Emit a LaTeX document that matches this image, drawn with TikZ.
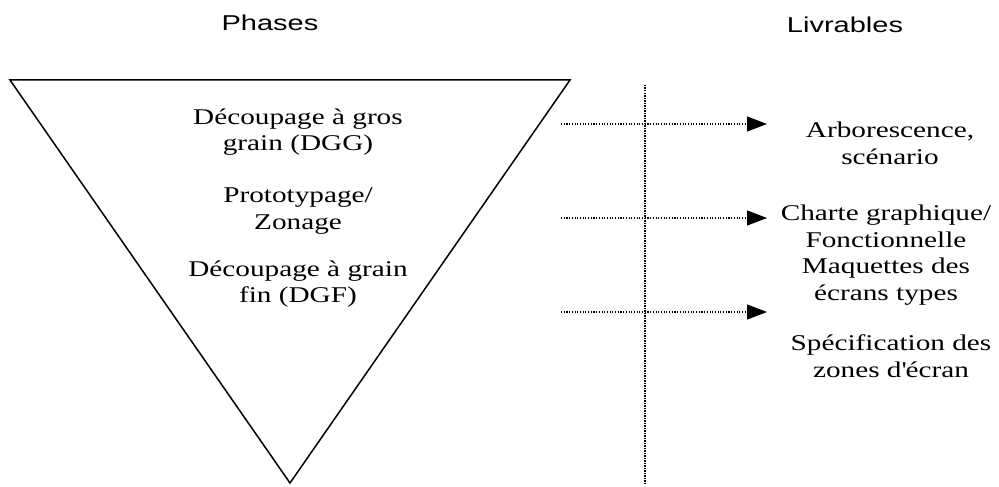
\documentclass[tikz,border=0pt]{standalone}
\usepackage{fontspec}
\setmainfont{Liberation Serif}[FakeStretch=1.3]
\newfontfamily\headfont{Liberation Sans}[FakeStretch=1.35]
\usetikzlibrary{arrows.meta}
\tikzset{
  head/.style={font=\headfont\fontsize{21.5}{24}\selectfont, inner sep=0pt},
  body/.style={font=\fontsize{22.5}{26.7}\selectfont, align=center, inner sep=0pt},
  feed/.style={line width=1.1pt, dash pattern=on 1.1pt off 1.6pt, -{Triangle[length=20pt,width=15pt]}},
  divider/.style={line width=2.4pt, dash pattern=on 1.5pt off 1pt},
  funnel/.style={line width=1.5pt, line join=miter}
}
\begin{document}
\begin{tikzpicture}[x=1pt,y=-1pt]
\useasboundingbox (0,0) rectangle (999,487);
\fill[white] (0,0) rectangle (999,487);
% headings
\node[head] (phases) at (270,23) {Phases};
\node[head] (livr) at (845,25) {Livrables};
% funnel
\coordinate (tl) at (10,80);
\coordinate (tr) at (570,80);
\coordinate (ap) at (290,483);
\draw[funnel] (tl) -- (tr) -- (ap) -- cycle;
% divider
\coordinate (dtop) at (645,85);
\coordinate (dbot) at (645,483);
\draw[divider] (dtop) -- (dbot);
% phases
\node[body] (p1) at (298,132) {Découpage à gros\\grain (DGG)};
\node[body] (p2) at (298,211) {Prototypage/\\Zonage};
\node[body] (p3) at (298,284) {Découpage à grain\\fin (DGF)};
% deliverables
\node[body] (l1) at (890,143) {Arborescence,\\scénario};
\node[body] (l2) at (886,255) {Charte graphique/\\Fonctionnelle\\Maquettes des\\écrans types};
\node[body] (l3) at (891,356) {Spécification des\\zones d\textquotesingle écran};
% arrows
\coordinate (s1) at (561,124);
\coordinate (e1) at (767,124);
\coordinate (s2) at (561,218);
\coordinate (e2) at (767,218);
\coordinate (s3) at (561,312);
\coordinate (e3) at (767,312);
\draw[feed] (s1) -- (e1);
\draw[feed] (s2) -- (e2);
\draw[feed] (s3) -- (e3);
\end{tikzpicture}
\end{document}
